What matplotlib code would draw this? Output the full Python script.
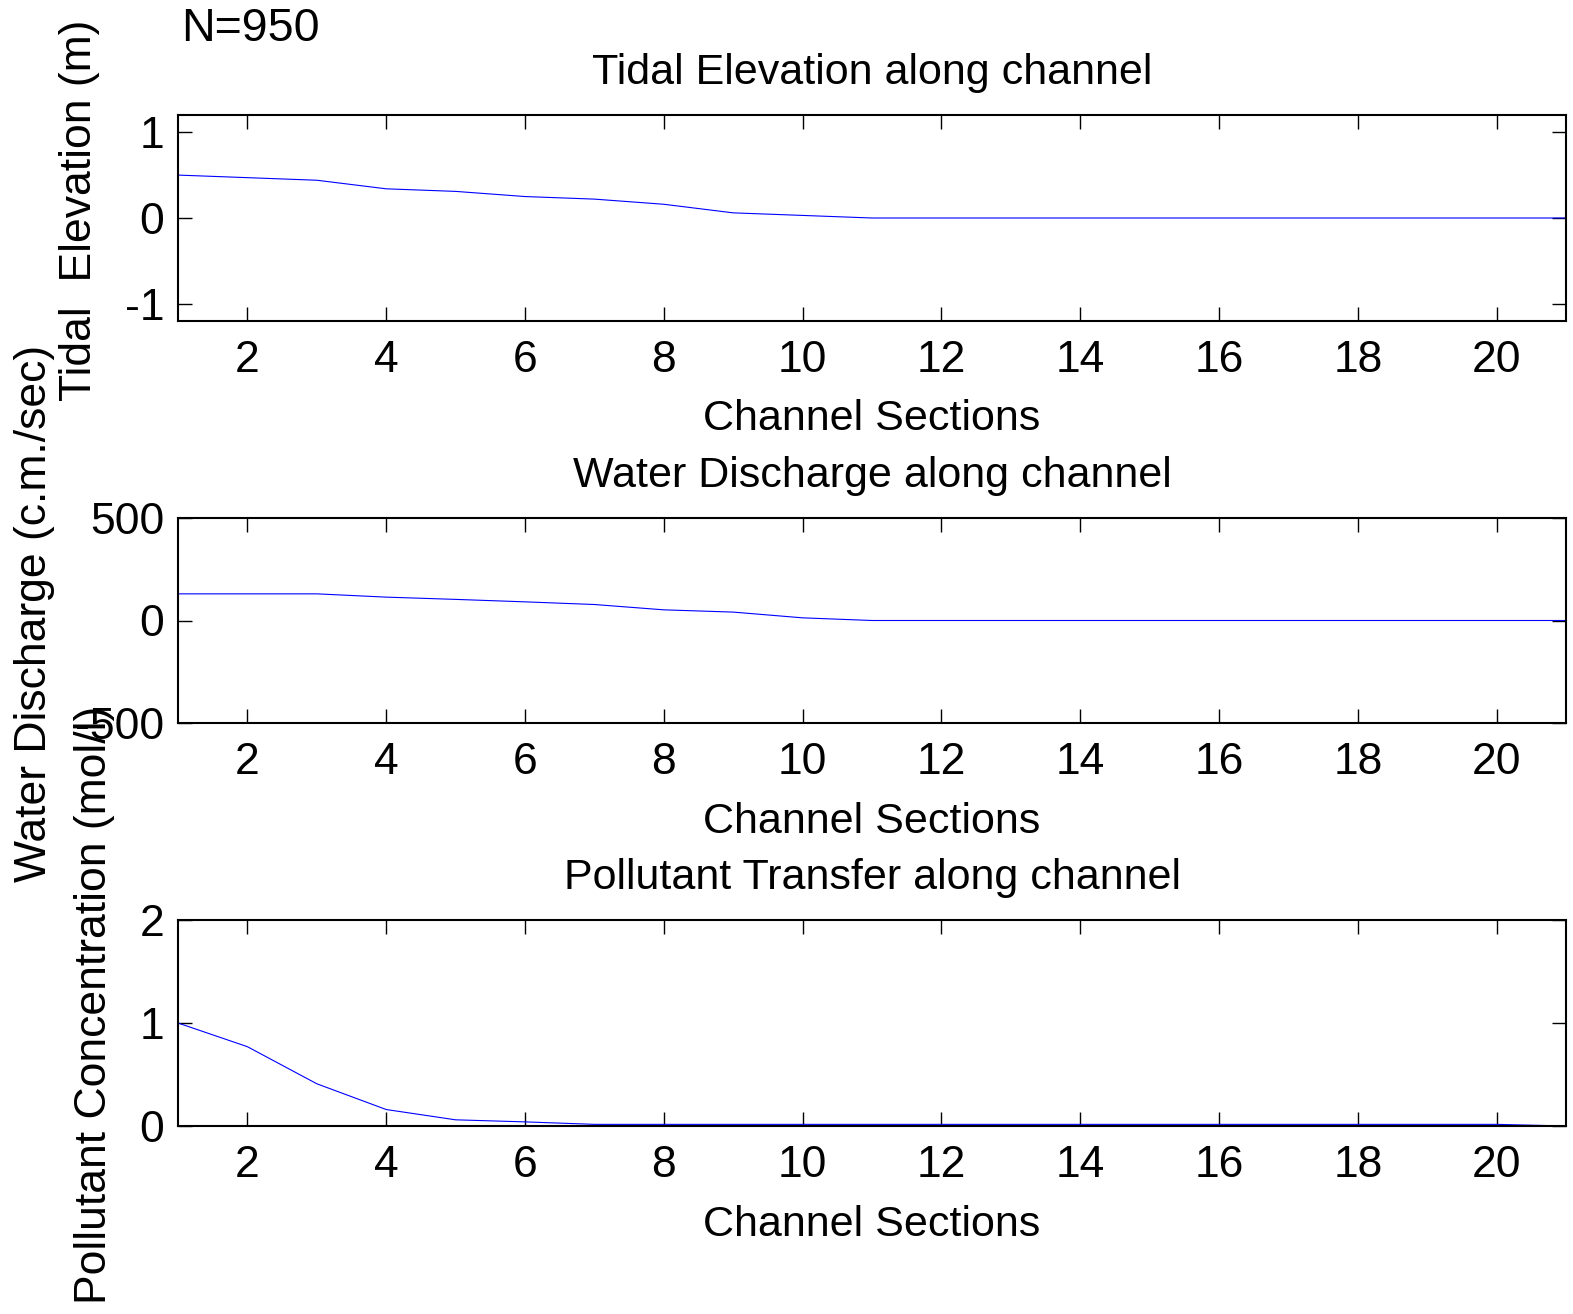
import matplotlib
matplotlib.use("Agg")
import matplotlib.pyplot as plt
import numpy as np

plt.rcParams['font.family'] = ['Liberation Sans', 'DejaVu Sans']

# channel sections 1..21
sections = np.arange(1, 22)

tidal_elev = [0.50, 0.47, 0.44, 0.34, 0.31, 0.25, 0.22, 0.16, 0.06, 0.03,
              0.0, 0.0, 0.0, 0.0, 0.0, 0.0, 0.0, 0.0, 0.0, 0.0, 0.0]
discharge = [130, 130, 130, 114, 103, 91, 78, 52, 41, 13,
             0, 0, 0, 0, 0, 0, 0, 0, 0, 0, 0]
pollutant = [1.0, 0.77, 0.41, 0.16, 0.06, 0.04, 0.016, 0.016, 0.016, 0.016,
             0.016, 0.016, 0.016, 0.016, 0.016, 0.016, 0.016, 0.016, 0.016, 0.016, 0.0]

W, H = 1573, 1314
fig = plt.figure(figsize=(W / 100, H / 100), dpi=100)
FS = 32
FS_LBL = 31


def make_axes(top, bottom, ylim, yticks, yticklabels, title, values):
    ax = fig.add_axes([178 / W, 1 - bottom / H, 1388 / W, (bottom - top) / H])
    ax.plot(sections, values, color='blue', linewidth=0.8)
    ax.set_xlim(1, 21)
    ax.set_ylim(*ylim)
    ax.set_xticks(range(2, 21, 2))
    ax.set_yticks(yticks)
    ax.set_yticklabels(yticklabels)
    ax.tick_params(axis='both', direction='in', top=True, right=True,
                   labelsize=FS, width=1.0, length=10)
    ax.tick_params(axis='x', pad=14)
    ax.tick_params(axis='y', pad=10)
    for s in ax.spines.values():
        s.set_linewidth(1.5)
    ax.set_title(title, fontsize=FS_LBL, pad=22)
    ax.set_xlabel('Channel Sections', fontsize=FS_LBL, labelpad=13)
    return ax


make_axes(115, 321, (-1.2, 1.2), [-1, 0, 1], ['-1', '0', '1'],
          'Tidal Elevation along channel', tidal_elev)
make_axes(518, 723, (-500, 500), [-500, 0, 500], ['-500', '0', '500'],
          'Water Discharge along channel', discharge)
make_axes(920, 1126, (0, 2), [0, 1, 2], ['0', '1', '2'],
          'Pollutant Transfer along channel', pollutant)

fig.text(181 / W, 1 - 29 / H, 'N=950', fontsize=33.5, ha='left', va='center')
fig.text(80 / W, 1 - 210 / H, 'Tidal  Elevation (m)', fontsize=FS,
         rotation=90, ha='center', va='center')
fig.text(35 / W, 1 - 613 / H, 'Water Discharge (c.m./sec)', fontsize=FS,
         rotation=90, ha='center', va='center')
fig.text(95 / W, 1 - 1005 / H, 'Pollutant Concentration (mol/l)', fontsize=FS,
         rotation=90, ha='center', va='center')

fig.savefig('out.png', dpi=100, facecolor='white')
